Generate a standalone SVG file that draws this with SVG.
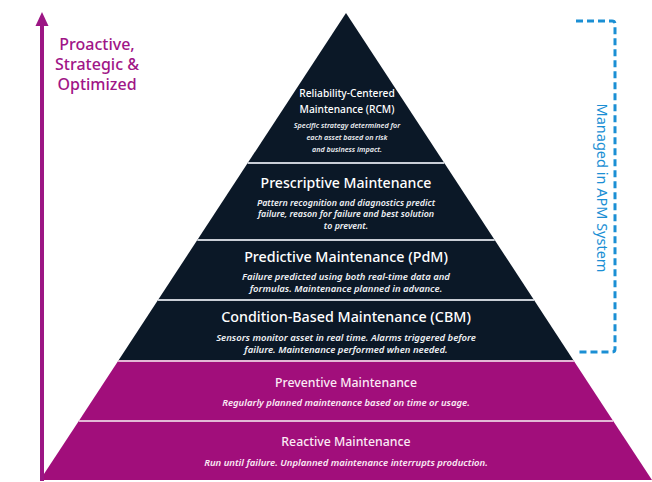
<svg xmlns="http://www.w3.org/2000/svg" width="652" height="482" viewBox="0 0 652 482">
<defs>
<style>
.dark{fill:#0b1827}
.mag{fill:#a10e7b}
.sep{stroke:#c9ced6;stroke-width:2}
.sepm{stroke:#e3b8d6;stroke-width:2}
.t{font-family:"Noto Sans","Open Sans","Liberation Sans",sans-serif;text-anchor:middle;fill:#ffffff;font-weight:500}
.d{font-family:"Noto Sans","Open Sans","Liberation Sans",sans-serif;text-anchor:middle;fill:#eef0f4;font-style:italic;font-weight:600}
.dm{fill:#fbeaf5}
.side{font-family:"Noto Sans","Open Sans","Liberation Sans",sans-serif;font-size:16px;font-weight:500;fill:#a01587;text-anchor:middle}
.apm{font-family:"Noto Sans","Open Sans","Liberation Sans",sans-serif;font-size:14.5px;fill:#1b8fd4;text-anchor:middle}
</style>
</defs>
<rect width="652" height="482" fill="#ffffff"/>
<g id="rcm">
<polygon class="dark" points="346,13 444.3,163 247.7,163"/>
<text class="t" x="347" y="97" font-size="10.2">Reliability-Centered</text>
<text class="t" x="347" y="113" font-size="10.2">Maintenance (RCM)</text>
<text class="d" x="347" y="128" font-size="7.2">Specific strategy determined for</text>
<text class="d" x="347" y="140" font-size="7.2">each asset based on risk</text>
<text class="d" x="347" y="152" font-size="7.2">and business impact.</text>
</g>
<g id="prescriptive">
<polygon class="dark" points="247.7,163 444.3,163 494.7,240 197.3,240"/>
<text class="t" x="346" y="188" font-size="14.1">Prescriptive Maintenance</text>
<text class="d" x="346" y="205.5" font-size="8.9">Pattern recognition and diagnostics predict</text>
<text class="d" x="346" y="217" font-size="8.9">failure, reason for failure and best solution</text>
<text class="d" x="346" y="228.5" font-size="8.9">to prevent.</text>
</g>
<g id="predictive">
<polygon class="dark" points="197.3,240 494.7,240 534,300 158,300"/>
<text class="t" x="346" y="262" font-size="14.3">Predictive Maintenance (PdM)</text>
<text class="d" x="346" y="280" font-size="9.5">Failure predicted using both real-time data and</text>
<text class="d" x="346" y="292" font-size="9.5">formulas. Maintenance planned in advance.</text>
</g>
<g id="cbm">
<polygon class="dark" points="158,300 534,300 573.9,361 118.1,361"/>
<text class="t" x="346" y="322" font-size="14.3">Condition-Based Maintenance (CBM)</text>
<text class="d" x="346" y="341" font-size="9.5">Sensors monitor asset in real time. Alarms triggered before</text>
<text class="d" x="346" y="353" font-size="9.5">failure. Maintenance performed when needed.</text>
</g>
<g id="preventive">
<polygon class="mag" points="118.1,361 573.9,361 613.2,421 78.8,421"/>
<text class="t dm" x="346" y="387" font-size="12.3">Preventive Maintenance</text>
<text class="d dm" x="346" y="406" font-size="9.5">Regularly planned maintenance based on time or usage.</text>
</g>
<g id="reactive">
<polygon class="mag" points="78.8,421 613.2,421 652,480 40,480"/>
<text class="t dm" x="346" y="446" font-size="12.3">Reactive Maintenance</text>
<text class="d dm" x="346" y="466" font-size="9.5">Run until failure. Unplanned maintenance interrupts production.</text>
</g>
<g id="separators">
<line class="sep" x1="247.7" y1="163" x2="444.3" y2="163"/>
<line class="sep" x1="197.3" y1="240" x2="494.7" y2="240"/>
<line class="sep" x1="158" y1="300" x2="534" y2="300"/>
<line class="sepm" x1="118.1" y1="361" x2="573.9" y2="361"/>
<line class="sepm" x1="78.8" y1="421" x2="613.2" y2="421"/>
</g>
<g id="connectors">
<line x1="42" y1="481" x2="42" y2="24" stroke="#9c1684" stroke-width="4"/>
<polygon points="42,12 35.5,26 48.5,26" fill="#9c1684"/>
<path d="M576,21 H612 Q615,21 615,24 V349 Q615,352 612,352 H576" fill="none" stroke="#1b8fd4" stroke-width="3" stroke-dasharray="7,4"/>
</g>
<g id="proactive-label">
<text class="side" x="97" y="50">Proactive,</text>
<text class="side" x="97" y="70">Strategic &amp;</text>
<text class="side" x="97" y="90">Optimized</text>
</g>
<g id="apm-label">
<text class="apm" transform="translate(597,188) rotate(90)">Managed in APM System</text>
</g>
</svg>
